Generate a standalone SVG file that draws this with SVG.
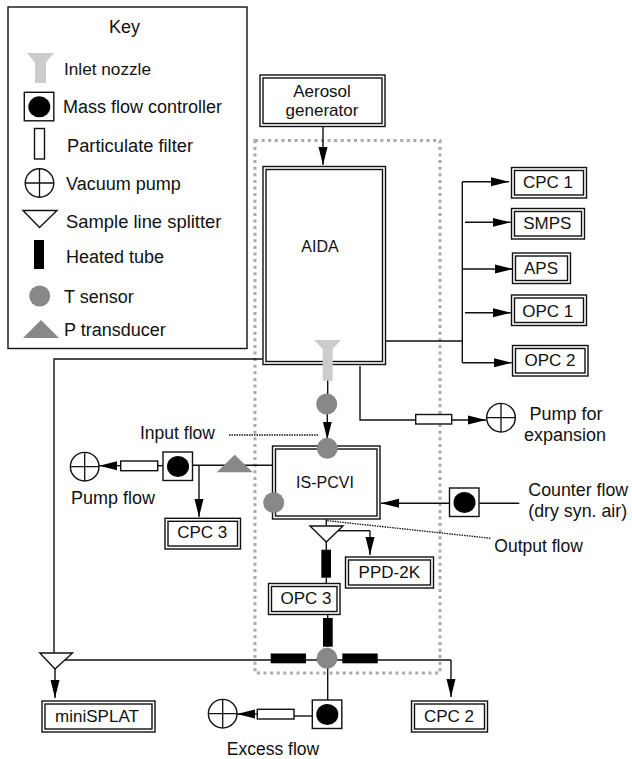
<svg xmlns="http://www.w3.org/2000/svg" width="632" height="759" viewBox="0 0 632 759">
<style>
text{font-family:"Liberation Sans",Arial,sans-serif;font-size:18px;fill:#111}
.m{text-anchor:middle}
.b{font-size:17px}
.c{font-size:16px}
.s{font-size:17.5px}
.o{fill:#fff;stroke:#111;stroke-width:1.4}
.n{fill:none;stroke:#111;stroke-width:1.3}
.l{fill:none;stroke:#111;stroke-width:1.4}
.a{marker-end:url(#h)}
.d{fill:none;stroke:#111;stroke-width:1.3;stroke-dasharray:1.5 1}
.t{fill:#888}
.k{fill:#000}
.g{fill:#ccc}
</style>
<defs>
<marker id="h" markerUnits="userSpaceOnUse" markerWidth="19" markerHeight="11" refX="18" refY="5.5" orient="auto"><path d="M0 1L18 5.5L0 10Z" fill="#000"/></marker>
<g id="mfc"><rect class="o" x="0" y="0" width="29.5" height="28.5"/><ellipse class="k" cx="15" cy="14.5" rx="11" ry="10.5"/></g>
<g id="pump"><circle class="o" r="14.3"/><path class="n" d="M-14.3 0H14.3M0 -14.3V14.3"/></g>
</defs>

<rect id="dashed-boundary" x="255" y="140.500" width="185" height="532.500" fill="none" stroke="#aaa" stroke-width="3" stroke-dasharray="3 3.600"/>

<g id="connectors">
<path class="l a" d="M323 126V165"/>
<path class="l" d="M386 341H462.300M462.300 181.700V362.700"/>
<path class="l a" d="M462.300 181.700H509"/>
<path class="l a" d="M465 222.300H510.700"/>
<path class="l a" d="M462.300 269H512.700"/>
<path class="l a" d="M465 312.700H510.700"/>
<path class="l a" d="M462.300 362.700H511.700"/>
<path class="l a" d="M360 366V420H486"/>
<path class="l" d="M327.700 380V404"/>
<path class="l a" d="M327.300 404V439.500"/>
<path class="l" d="M262.500 359H54V653"/>
<path class="l a" d="M55 669V698"/>
<path class="l" d="M65 660H451"/>
<path class="l a" d="M451 660V697"/>
<path class="l" d="M327.700 658V700"/>
<path class="l" d="M312.300 716H294"/>
<path class="l a" d="M257.300 714H237"/>
<path class="l" d="M272.300 465.300H192.700"/>
<path class="l a" d="M199 465.300V517"/>
<path class="l" d="M162.700 465.700H157.700"/>
<path class="l a" d="M120.700 465.700H99.300"/>
<path class="l" d="M479.300 503.300H519.300"/>
<path class="l a" d="M449.300 503.300H381"/>
<path class="l" d="M326.300 519V526M326.300 542V550M326.300 577.700V583.300M327.700 615V647"/>
<path class="l" d="M338 530.700H370"/>
<path class="l a" d="M370 530.700V555"/>
<path class="d" d="M229 435H318"/>
<path class="d" d="M327.300 520.700L490.700 538.300"/>
</g>

<g id="key">
<rect class="o" x="8" y="7" width="239" height="341.500"/>
<text x="109" y="33">Key</text>
<path class="g" d="M27 53H54L46 62.500V83H35V62.500Z"/>
<text x="64" y="75" style="font-size:17.200px">Inlet nozzle</text>
<use href="#mfc" x="24.300" y="92.300"/>
<text x="63" y="113">Mass flow controller</text>
<rect class="o" x="34.500" y="128.500" width="10" height="30.500"/>
<text x="67" y="152" style="font-size:18.300px">Particulate filter</text>
<use href="#pump" x="39.500" y="183"/>
<text x="66" y="190">Vacuum pump</text>
<path class="o" d="M23 210.500H57L39.500 227.500Z"/>
<text x="66" y="228" style="font-size:18.400px">Sample line splitter</text>
<rect class="k" x="34" y="240" width="10" height="29"/>
<text x="66" y="263">Heated tube</text>
<circle class="t" cx="39.700" cy="296" r="10.500"/>
<text x="64" y="303">T sensor</text>
<path class="t" d="M23 338H59L41 320Z"/>
<text x="64" y="336">P transducer</text>
</g>

<g id="aerosol-generator">
<rect class="o" x="260" y="75" width="125" height="51.500"/>
<rect class="o" x="263" y="78" width="119" height="45.500"/>
<text class="m b" x="322" y="97">Aerosol</text>
<text class="m b" x="322" y="116">generator</text>
</g>

<g id="aida">
<rect class="o" x="263" y="166.500" width="122.500" height="198"/>
<rect class="o" x="266" y="169.500" width="116.500" height="192"/>
<text class="m c" x="320" y="252">AIDA</text>
</g>
<g id="inlet-nozzle"><path class="g" d="M314 340H341L332.700 349V380.700H322.700V349Z"/></g>
<g id="t-sensor-1"><circle class="t" cx="326.700" cy="404" r="10.500"/></g>

<g id="cpc1"><rect class="o" x="511.500" y="167.500" width="75" height="30.500"/><rect class="o" x="514.500" y="170.500" width="69" height="24.500"/><text class="m b" x="548" y="188">CPC 1</text></g>
<g id="smps"><rect class="o" x="511.500" y="208.500" width="73" height="30.500"/><rect class="o" x="514.500" y="211.500" width="67" height="24.500"/><text class="m b" x="547.300" y="229">SMPS</text></g>
<g id="aps"><rect class="o" x="512.500" y="253" width="58" height="30.500"/><rect class="o" x="515.500" y="256" width="52" height="24.500"/><text class="m b" x="541" y="274">APS</text></g>
<g id="opc1"><rect class="o" x="511.500" y="295" width="75" height="30.500"/><rect class="o" x="514.500" y="298" width="69" height="24.500"/><text class="m b" x="547.700" y="316.500">OPC 1</text></g>
<g id="opc2"><rect class="o" x="512.500" y="345.500" width="75.500" height="30.500"/><rect class="o" x="515.500" y="348.500" width="69.500" height="24.500"/><text class="m b" x="550" y="366">OPC 2</text></g>

<g id="expansion-filter"><rect class="o" x="415.700" y="414.500" width="36" height="9.500"/></g>
<g id="expansion-pump"><use href="#pump" x="501" y="417.700"/><text class="m" x="566" y="420">Pump for</text><text class="m" x="565" y="440.700">expansion</text></g>

<g id="is-pcvi">
<rect class="o" x="272.500" y="446" width="107.500" height="73"/>
<rect class="o" x="275.500" y="449" width="101.500" height="67"/>
<text class="m c" x="325" y="487.700">IS-PCVI</text>
</g>
<g id="t-sensor-2"><circle class="t" cx="327.300" cy="448.300" r="10.500"/></g>
<g id="t-sensor-3"><circle class="t" cx="273.700" cy="502.700" r="10.500"/></g>
<g id="input-flow"><text x="140" y="439" class="s">Input flow</text></g>
<g id="p-transducer"><path class="t" d="M216.700 472.300H252.700L234.700 454.700Z"/></g>
<g id="pump-mfc"><use href="#mfc" x="163" y="452"/></g>
<g id="pump-filter"><rect class="o" x="120.700" y="461" width="37" height="9.700"/></g>
<g id="pump-flow"><use href="#pump" x="84.700" y="466.700"/><text x="71" y="504">Pump flow</text></g>
<g id="cpc3"><rect class="o" x="165" y="518.300" width="75.500" height="30.700"/><rect class="o" x="168" y="521.300" width="69.500" height="24.700"/><text class="m b" x="202.300" y="538.300">CPC 3</text></g>

<g id="counter-mfc"><use href="#mfc" x="449.500" y="488"/></g>
<g id="counter-flow"><text x="528.300" y="496" style="font-size:17.800px">Counter flow</text><text x="528.300" y="516.700" style="font-size:17.800px">(dry syn. air)</text></g>
<g id="output-flow"><text x="494.300" y="551.700" class="s">Output flow</text></g>

<g id="splitter-1"><path class="o" d="M310 526H343L326.300 542Z"/></g>
<g id="heated-tube-1"><rect class="k" x="321.300" y="549.700" width="9.700" height="28"/></g>
<g id="ppd-2k"><rect class="o" x="345.500" y="557" width="88" height="31"/><rect class="o" x="348.500" y="560" width="82" height="25"/><text class="m b" x="389.300" y="577.700">PPD-2K</text></g>
<g id="opc3"><rect class="o" x="268.500" y="583.500" width="71.500" height="31"/><rect class="o" x="271.500" y="586.500" width="65.500" height="25"/><text class="m b" x="306" y="604">OPC 3</text></g>
<g id="heated-tube-2"><rect class="k" x="323" y="618" width="9.700" height="28.700"/></g>
<g id="heated-tube-3"><rect class="k" x="270.700" y="653.500" width="35.300" height="9.800"/></g>
<g id="heated-tube-4"><rect class="k" x="342.300" y="653.500" width="35.400" height="9.800"/></g>
<g id="t-sensor-4"><circle class="t" cx="327" cy="658.300" r="10.500"/></g>
<g id="splitter-2"><path class="o" d="M39.800 653H72.500L55 669Z"/></g>
<g id="minisplat"><rect class="o" x="42" y="701" width="113" height="31"/><rect class="o" x="45" y="704" width="107" height="25"/><text class="m b" x="97" y="721.700">miniSPLAT</text></g>
<g id="cpc2"><rect class="o" x="411.500" y="701" width="76" height="31"/><rect class="o" x="414.500" y="704" width="70" height="25"/><text class="m b" x="449" y="721.700">CPC 2</text></g>
<g id="excess-mfc"><use href="#mfc" x="312.300" y="700"/></g>
<g id="excess-filter"><rect class="o" x="257.300" y="709.300" width="36.700" height="9.700"/></g>
<g id="excess-pump"><use href="#pump" x="222.700" y="713.700"/></g>
<g id="excess-flow"><text class="m s" x="273" y="755">Excess flow</text></g>
</svg>
